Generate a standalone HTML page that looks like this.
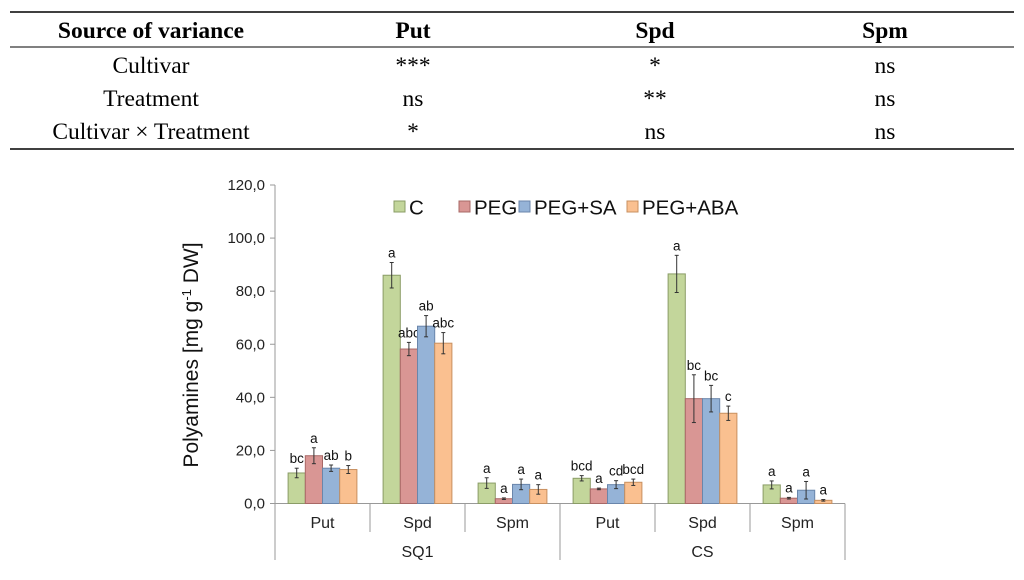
<!DOCTYPE html>
<html><head><meta charset="utf-8"><style>
body{margin:0;background:#fff;width:1024px;height:575px;overflow:hidden}
svg text{font-family:"Liberation Sans",sans-serif}
.t{font-family:"Liberation Serif",serif;font-size:23.5px;fill:#000}
</style></head><body>
<svg width="1024" height="575">
<g>
<line x1="10" y1="12" x2="1014" y2="12" stroke="#000" stroke-width="1.5"/>
<line x1="10" y1="47" x2="1014" y2="47" stroke="#000" stroke-width="1"/>
<line x1="10" y1="149" x2="1014" y2="149" stroke="#000" stroke-width="1.5"/>
<text x="151" y="38" class="t" font-weight="bold" text-anchor="middle">Source of variance</text>
<text x="413" y="38" class="t" font-weight="bold" text-anchor="middle">Put</text>
<text x="655" y="38" class="t" font-weight="bold" text-anchor="middle">Spd</text>
<text x="885" y="38" class="t" font-weight="bold" text-anchor="middle">Spm</text>
<text x="151" y="73" class="t" text-anchor="middle">Cultivar</text>
<text x="413" y="73" class="t" text-anchor="middle">***</text>
<text x="655" y="73" class="t" text-anchor="middle">*</text>
<text x="885" y="73" class="t" text-anchor="middle">ns</text>
<text x="151" y="106" class="t" text-anchor="middle">Treatment</text>
<text x="413" y="106" class="t" text-anchor="middle">ns</text>
<text x="655" y="106" class="t" text-anchor="middle">**</text>
<text x="885" y="106" class="t" text-anchor="middle">ns</text>
<text x="151" y="139" class="t" text-anchor="middle">Cultivar × Treatment</text>
<text x="413" y="139" class="t" text-anchor="middle">*</text>
<text x="655" y="139" class="t" text-anchor="middle">ns</text>
<text x="885" y="139" class="t" text-anchor="middle">ns</text>
</g>
<g id="chart"></g>
</svg>
<script>
const groups=["SQ1","CS"];
const categories=["Put","Spd","Spm","Put","Spd","Spm"];
const seriesNames=["C","PEG","PEG+SA","PEG+ABA"];
const colors=["#c3d69b","#d99694","#95b3d7","#fac090"];
const strokes=["#8a9c66","#a86866","#6a86ab","#c89060"];
const valC=[11.5,86,7.7,9.5,86.5,7];
const valPEG=[18,58.2,1.8,5.5,39.5,2];
const valSA=[13.3,66.8,7.2,7.1,39.5,5];
const valABA=[12.8,60.4,5.3,8,34,1.2];
const errC=[1.8,4.8,2,1,7,1.5];
const errPEG=[3,2.5,0.3,0.3,9,0.3];
const errSA=[1.2,4,2,1.5,5,3.3];
const errABA=[1.5,4,1.8,1.2,2.7,0.3];
const lblC=["bc","a","a","bcd","a","a"];
const lblPEG=["a","abc","a","a","bc","a"];
const lblSA=["ab","ab","a","cd","bc","a"];
const lblABA=["b","abc","a","bcd","c","a"];
const yTicks=[0,20,40,60,80,100,120];
const yTickLabels=["0,0","20,0","40,0","60,0","80,0","100,0","120,0"];

const NS="http://www.w3.org/2000/svg";
const g=document.getElementById('chart');
const x0=275,x1=845,y0=503.5,ymaxPx=185;
const y=v=>y0-(v/120)*(y0-ymaxPx);
const cw=(x1-x0)/categories.length;
function mk(t,a,p){const e=document.createElementNS(NS,t);for(const k in a)e.setAttribute(k,a[k]);(p||g).appendChild(e);return e;}
let e=mk('line',{x1:x0,y1:y(120),x2:x0,y2:560,stroke:'#999'});


e=mk('line',{x1:x0,y1:y0,x2:x1,y2:y0,stroke:'#999'});


yTicks.forEach((v,i)=>{
  mk('line',{x1:x0-5,y1:y(v),x2:x0,y2:y(v),stroke:'#999'});
  const t=mk('text',{x:x0-10,y:y(v)+5,'text-anchor':'end','font-size':15,fill:'#222'});
  t.textContent=yTickLabels[i];
  
  
});
for(let i=1;i<=categories.length;i++){
  const xx=x0+i*cw;
  const long=(i===3||i===6);
  mk('line',{x1:xx,y1:y0,x2:xx,y2:long?560:532,stroke:'#999'});
}
categories.forEach((c,i)=>{
  const t=mk('text',{x:x0+(i+0.5)*cw,y:528,'text-anchor':'middle','font-size':16,fill:'#222'});
  t.textContent=c;
  
  
});
groups.forEach((gr,i)=>{
  const t=mk('text',{x:x0+(i*3+1.5)*cw,y:557,'text-anchor':'middle','font-size':16,fill:'#222'});
  t.textContent=gr;
  
  
});
const vals=[valC,valPEG,valSA,valABA],errs=[errC,errPEG,errSA,errABA],lbls=[lblC,lblPEG,lblSA,lblABA];
const bw=17.2;
categories.forEach((c,i)=>{
  const start=x0+i*cw+(cw-4*bw)/2;
  for(let s=0;s<4;s++){
    const v=vals[s][i],er=errs[s][i],bx=start+s*bw;
    const r=mk('rect',{x:bx,y:y(v),width:bw,height:y0-y(v),fill:colors[s],stroke:strokes[s],'stroke-width':1});
    
    
    const cx=bx+bw/2;
    mk('line',{x1:cx,y1:y(v+er),x2:cx,y2:y(v-er),stroke:'#333','stroke-width':1});
    mk('line',{x1:cx-2,y1:y(v+er),x2:cx+2,y2:y(v+er),stroke:'#333'});
    mk('line',{x1:cx-2,y1:y(v-er),x2:cx+2,y2:y(v-er),stroke:'#333'});
    const t=mk('text',{x:cx,y:y(v+er)-5,'text-anchor':'middle','font-size':13.5,fill:'#111'});
    t.textContent=lbls[s][i];
    
    
  }
});
const lx=[394,459,519,627];
seriesNames.forEach((n,s)=>{
  const r=mk('rect',{x:lx[s],y:201,width:11,height:11,fill:colors[s],stroke:strokes[s]});
  
  
  const t=mk('text',{x:lx[s]+15,y:214.5,'font-size':20.5,fill:'#111'});
  t.textContent=n;
  
  
});
const yt=mk('text',{x:0,y:0,transform:'translate(198,355) rotate(-90)','text-anchor':'middle','font-size':21,fill:'#111'});
yt.innerHTML='Polyamines [mg g<tspan dy="-7" font-size="13">-1</tspan><tspan dy="7"> DW]</tspan>';


</script>
</body></html>
